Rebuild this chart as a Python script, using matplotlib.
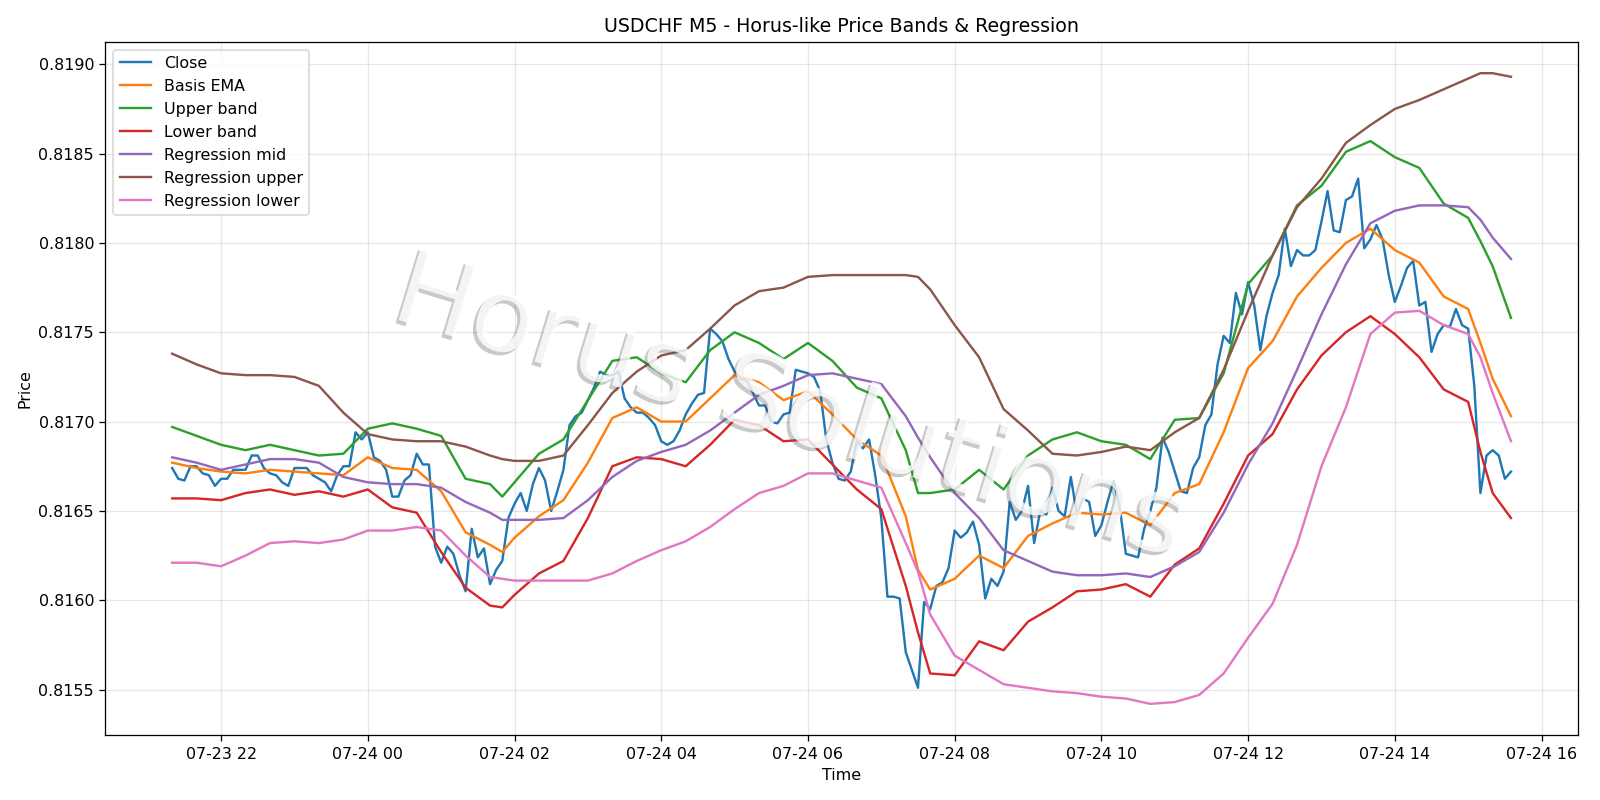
import matplotlib
matplotlib.use("Agg")
import matplotlib.pyplot as plt
import matplotlib.dates as mdates
import matplotlib.patheffects as pe
import pandas as pd

# USDCHF M5 closes, one per 5-minute bar from 07-23 21:20
start = "2025-07-23 21:20"
close = [
    0.81674, 0.81668, 0.81667, 0.81675, 0.81675, 0.81671, 0.81670, 0.81664, 0.81668, 0.81668,
    0.81673, 0.81673, 0.81673, 0.81681, 0.81681, 0.81674, 0.81671, 0.81670, 0.81666, 0.81664,
    0.81674, 0.81674, 0.81674, 0.81670, 0.81668, 0.81666, 0.81661, 0.81670, 0.81675, 0.81675,
    0.81694, 0.81690, 0.81694, 0.81680, 0.81678, 0.81673, 0.81658, 0.81658, 0.81667, 0.81670,
    0.81682, 0.81676, 0.81676, 0.81630, 0.81621, 0.81630, 0.81626, 0.81614, 0.81605, 0.81640,
    0.81624, 0.81629, 0.81609, 0.81617, 0.81622, 0.81646, 0.81654, 0.81660, 0.81650, 0.81665,
    0.81674, 0.81667, 0.81650, 0.81661, 0.81673, 0.81698, 0.81703, 0.81705, 0.81712, 0.81719,
    0.81728, 0.81726, 0.81726, 0.81728, 0.81713, 0.81708, 0.81705, 0.81705, 0.81702, 0.81698,
    0.81689, 0.81687, 0.81689, 0.81695, 0.81704, 0.81710, 0.81715, 0.81716, 0.81752, 0.81749,
    0.81745, 0.81735, 0.81728, 0.81724, 0.81723, 0.81716, 0.81709, 0.81709, 0.81700, 0.81699,
    0.81704, 0.81705, 0.81729, 0.81728, 0.81727, 0.81725, 0.81717, 0.81690, 0.81677, 0.81668,
    0.81667, 0.81672, 0.81689, 0.81685, 0.81690, 0.81670, 0.81646, 0.81602, 0.81602, 0.81601,
    0.81571, 0.81561, 0.81551, 0.81599, 0.81595, 0.81608, 0.81610, 0.81618, 0.81639, 0.81635,
    0.81638, 0.81644, 0.81631, 0.81601, 0.81612, 0.81608, 0.81616, 0.81655, 0.81645, 0.81650,
    0.81664, 0.81632, 0.81650, 0.81648, 0.81663, 0.81650, 0.81647, 0.81669, 0.81648, 0.81657,
    0.81655, 0.81636, 0.81642, 0.81655, 0.81667, 0.81652, 0.81626, 0.81625, 0.81624, 0.81640,
    0.81650, 0.81663, 0.81691, 0.81683, 0.81672, 0.81661, 0.81660, 0.81674, 0.81680, 0.81698,
    0.81704, 0.81732, 0.81748, 0.81744, 0.81772, 0.81760, 0.81778, 0.81765, 0.81740, 0.81759,
    0.81772, 0.81782, 0.81808, 0.81787, 0.81796, 0.81793, 0.81793, 0.81796, 0.81812, 0.81829,
    0.81807, 0.81806, 0.81824, 0.81826, 0.81836, 0.81797, 0.81802, 0.81810, 0.81802, 0.81782,
    0.81767, 0.81776, 0.81786, 0.81790, 0.81765, 0.81767, 0.81739, 0.81749, 0.81754, 0.81753,
    0.81763, 0.81754, 0.81752, 0.81720, 0.81660, 0.81681, 0.81684, 0.81681, 0.81668, 0.81672,
]
times = pd.date_range(start, periods=len(close), freq="5min")

# band / regression lines (+ a few turning points)
band_idx = [0, 4, 8, 12, 16, 20, 24, 28, 32, 36, 40, 44, 48, 52, 54, 56, 60, 64, 68, 72,
            76, 80, 84, 88, 92, 96, 100, 104, 108, 112, 116, 120, 122, 124, 128, 132, 136, 140,
            144, 148, 152, 156, 160, 164, 168, 172, 176, 180, 184, 188, 192, 196, 200, 204,
            208, 212, 214, 216, 219]

basis_ema = [0.81677, 0.81674, 0.81672, 0.81671, 0.81673, 0.81672, 0.81671, 0.81670, 0.81680, 0.81674,
             0.81673, 0.81661, 0.81638, 0.81631, 0.81627, 0.81635, 0.81647, 0.81656, 0.81677, 0.81702,
             0.81708, 0.81700, 0.81700, 0.81713, 0.81726, 0.81722, 0.81712, 0.81717, 0.81704, 0.81690,
             0.81681, 0.81647, 0.81617, 0.81606, 0.81612, 0.81625, 0.81618, 0.81636, 0.81643, 0.81649,
             0.81648, 0.81649, 0.81642, 0.81660, 0.81665, 0.81694, 0.81730, 0.81745, 0.81770, 0.81786,
             0.81800, 0.81808, 0.81796, 0.81789, 0.81770, 0.81763, 0.81744, 0.81724, 0.81703]
upper_band = [0.81697, 0.81692, 0.81687, 0.81684, 0.81687, 0.81684, 0.81681, 0.81682, 0.81696, 0.81699,
              0.81696, 0.81692, 0.81668, 0.81665, 0.81658, 0.81666, 0.81682, 0.81690, 0.81712, 0.81734,
              0.81736, 0.81727, 0.81722, 0.81740, 0.81750, 0.81744, 0.81735, 0.81744, 0.81734, 0.81719,
              0.81713, 0.81684, 0.81660, 0.81660, 0.81662, 0.81673, 0.81662, 0.81681, 0.81690, 0.81694,
              0.81689, 0.81687, 0.81679, 0.81701, 0.81702, 0.81727, 0.81777, 0.81793, 0.81821, 0.81832,
              0.81851, 0.81857, 0.81848, 0.81842, 0.81822, 0.81814, 0.81801, 0.81787, 0.81758]
lower_band = [0.81657, 0.81657, 0.81656, 0.81660, 0.81662, 0.81659, 0.81661, 0.81658, 0.81662, 0.81652,
              0.81649, 0.81627, 0.81607, 0.81597, 0.81596, 0.81603, 0.81615, 0.81622, 0.81646, 0.81675,
              0.81680, 0.81679, 0.81675, 0.81687, 0.81701, 0.81698, 0.81689, 0.81690, 0.81676, 0.81662,
              0.81651, 0.81608, 0.81582, 0.81559, 0.81558, 0.81577, 0.81572, 0.81588, 0.81596, 0.81605,
              0.81606, 0.81609, 0.81602, 0.81620, 0.81629, 0.81654, 0.81681, 0.81693, 0.81718, 0.81737,
              0.81750, 0.81759, 0.81749, 0.81736, 0.81718, 0.81711, 0.81683, 0.81660, 0.81646]
reg_mid = [0.81680, 0.81677, 0.81673, 0.81676, 0.81679, 0.81679, 0.81677, 0.81669, 0.81666, 0.81665,
           0.81665, 0.81663, 0.81655, 0.81649, 0.81645, 0.81645, 0.81645, 0.81646, 0.81656, 0.81669,
           0.81678, 0.81683, 0.81687, 0.81695, 0.81705, 0.81715, 0.81720, 0.81726, 0.81727, 0.81724,
           0.81721, 0.81703, 0.81691, 0.81680, 0.81660, 0.81646, 0.81628, 0.81622, 0.81616, 0.81614,
           0.81614, 0.81615, 0.81613, 0.81619, 0.81627, 0.81649, 0.81676, 0.81699, 0.81729, 0.81760,
           0.81788, 0.81811, 0.81818, 0.81821, 0.81821, 0.81820, 0.81813, 0.81803, 0.81791]
reg_upper = [0.81738, 0.81732, 0.81727, 0.81726, 0.81726, 0.81725, 0.81720, 0.81705, 0.81693, 0.81690,
             0.81689, 0.81689, 0.81686, 0.81681, 0.81679, 0.81678, 0.81678, 0.81681, 0.81698, 0.81716,
             0.81728, 0.81737, 0.81740, 0.81752, 0.81765, 0.81773, 0.81775, 0.81781, 0.81782, 0.81782,
             0.81782, 0.81782, 0.81781, 0.81774, 0.81754, 0.81736, 0.81707, 0.81695, 0.81682, 0.81681,
             0.81683, 0.81686, 0.81684, 0.81694, 0.81702, 0.81729, 0.81762, 0.81793, 0.81820, 0.81836,
             0.81856, 0.81866, 0.81875, 0.81880, 0.81886, 0.81892, 0.81895, 0.81895, 0.81893]
reg_lower = [0.81621, 0.81621, 0.81619, 0.81625, 0.81632, 0.81633, 0.81632, 0.81634, 0.81639, 0.81639,
             0.81641, 0.81639, 0.81625, 0.81613, 0.81612, 0.81611, 0.81611, 0.81611, 0.81611, 0.81615,
             0.81622, 0.81628, 0.81633, 0.81641, 0.81651, 0.81660, 0.81664, 0.81671, 0.81671, 0.81667,
             0.81663, 0.81632, 0.81616, 0.81592, 0.81569, 0.81561, 0.81553, 0.81551, 0.81549, 0.81548,
             0.81546, 0.81545, 0.81542, 0.81543, 0.81547, 0.81559, 0.81579, 0.81598, 0.81631, 0.81675,
             0.81708, 0.81749, 0.81761, 0.81762, 0.81754, 0.81749, 0.81736, 0.81716, 0.81689]

band_times = times[band_idx]

fig, ax = plt.subplots(figsize=(14, 7), dpi=1600 / 14)

ax.plot(times, close, label="Close")
ax.plot(band_times, basis_ema, label="Basis EMA")
ax.plot(band_times, upper_band, label="Upper band")
ax.plot(band_times, lower_band, label="Lower band")
ax.plot(band_times, reg_mid, label="Regression mid")
ax.plot(band_times, reg_upper, label="Regression upper")
ax.plot(band_times, reg_lower, label="Regression lower")

# watermark: mostly-white letters, only the grey drop shadow shows at the edges
ax.text(0.465, 0.47, "Horus Solutions", transform=ax.transAxes, fontsize=66,
        rotation=-17, ha="center", va="center", color="white", alpha=0.8, zorder=5,
        path_effects=[pe.SimplePatchShadow(offset=(-2, -2), shadow_rgbFace="#4d4d4d", alpha=0.3),
                      pe.Normal()])

ax.set_title("USDCHF M5 - Horus-like Price Bands & Regression")
ax.set_xlabel("Time")
ax.set_ylabel("Price")
ax.xaxis.set_major_locator(mdates.HourLocator(interval=2))
ax.xaxis.set_major_formatter(mdates.DateFormatter("%m-%d %H"))
ax.grid(True, alpha=0.3)
ax.legend(loc="upper left")

fig.tight_layout()
fig.savefig("out.png")
